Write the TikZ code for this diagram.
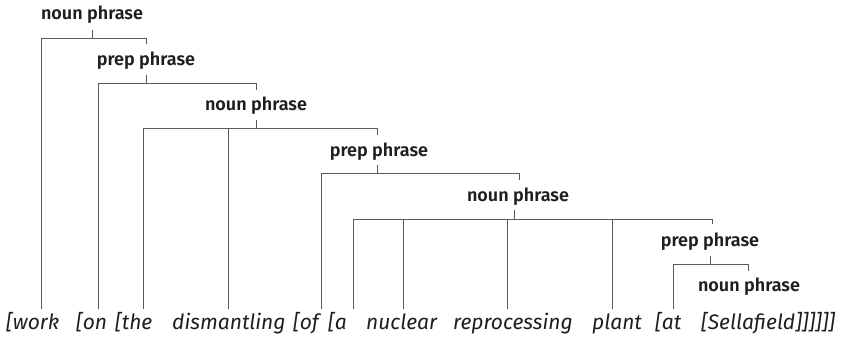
\documentclass[tikz,border=0pt]{standalone}
\usepackage{fontspec}
\setmainfont{Fira Sans}
\IfFontExistsTF{Fira Sans SemiBold}
  {\newfontfamily\labfontbase{Fira Sans SemiBold}\newcommand\labfont{\labfontbase}}
  {\newfontfamily\labfontbase{Fira Sans}\newcommand\labfont{\labfontbase\bfseries}}
\newfontfamily\wrdfontbase{Fira Sans}
\newcommand\wrdfont{\wrdfontbase\itshape}
\definecolor{inkc}{HTML}{1E1E1E}
\definecolor{linec}{HTML}{5A5A5A}
\tikzset{
  lab/.style={font=\labfont\fontsize{18}{20}\selectfont, text=inkc, inner sep=0pt, anchor=center},
  wrd/.style={font=\wrdfont\fontsize{21}{24}\selectfont, text=inkc, inner sep=0pt, anchor=base west},
  br/.style={draw=linec, line width=1pt}
}
\begin{document}
\begin{tikzpicture}[x=1pt,y=-1pt]
\useasboundingbox (0,0) rectangle (849,342);
% labels
\node[lab] (L1) at (92,15)  {noun phrase};
\node[lab] (L2) at (146,61) {prep phrase};
\node[lab] (L3) at (256,106) {noun phrase};
\node[lab] (L4) at (379,152) {prep phrase};
\node[lab] (L5) at (518,197) {noun phrase};
\node[lab] (L6) at (710,242) {prep phrase};
\node[lab] (L7) at (749,287) {noun phrase};
% words
\node[wrd] (w1)  at (6,329)   {[work};
\node[wrd] (w2)  at (76,329)  {[on};
\node[wrd] (w3)  at (115,329) {[the};
\node[wrd] (w4)  at (172,329) {dismantling};
\node[wrd] (w5)  at (293,329) {[of};
\node[wrd] (w6)  at (328,329) {[a};
\node[wrd] (w7)  at (366,329) {nuclear};
\node[wrd] (w8)  at (453,329) {reprocessing};
\node[wrd] (w9)  at (592,329) {plant};
\node[wrd] (w10) at (655,329) {[at};
\node[wrd] (w11) at (701,329) {[Sellafield]]]]]]};
% word attachment points
\coordinate (v1)  at (41,309);
\coordinate (v2)  at (98,309);
\coordinate (v3)  at (143,309);
\coordinate (v4)  at (228,309);
\coordinate (v5)  at (321,309);
\coordinate (v6)  at (353,309);
\coordinate (v7)  at (403,309);
\coordinate (v8)  at (507,309);
\coordinate (v9)  at (612,309);
\coordinate (v10) at (673,309);
% brackets
\coordinate (b1) at (146,39);
\coordinate (b2) at (256,84);
\coordinate (b3) at (377,129);
\coordinate (b4) at (519,174);
\coordinate (b5) at (712,219);
\coordinate (b6) at (748,264);
% bracket 1
\draw[br] (v1) |- (b1) -- ++(0,5);
\draw[br] (L1.center |- b1) -- ++(0,-9);
% bracket 2
\draw[br] (v2) |- (b2) -- ++(0,6);
\draw[br] (L2.center |- b2) -- ++(0,-9);
% bracket 3
\draw[br] (v3) |- (b3) -- ++(0,6);
\draw[br] (v4) -- (v4 |- b3);
\draw[br] (L3.center |- b3) -- ++(0,-9);
% bracket 4
\draw[br] (v5) |- (b4) -- ++(0,6);
\draw[br] ([xshift=-2pt]L4.center |- b4) -- ++(0,-9);
% bracket 5
\draw[br] (v6) |- (b5) -- ++(0,5);
\draw[br] (v7) -- (v7 |- b5);
\draw[br] (v8) -- (v8 |- b5);
\draw[br] (v9) -- (v9 |- b5);
\draw[br] ([xshift=-4pt]L5.center |- b5) -- ++(0,-9);
% bracket 6
\draw[br] (v10) |- (b6) -- ++(0,7);
\draw[br] (L6.center |- b6) -- ++(0,-8);
\end{tikzpicture}
\end{document}
